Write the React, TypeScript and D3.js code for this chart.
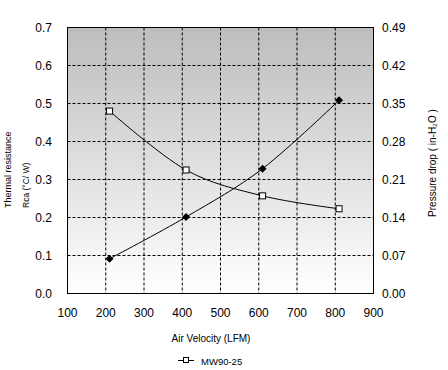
import React from "react";
import * as d3 from "d3";

const velocity = [210, 410, 610, 810];
const thermalResistance = [0.48, 0.325, 0.257, 0.223];
const pressureDrop = [0.064, 0.141, 0.23, 0.356];
const xTicks = [100, 200, 300, 400, 500, 600, 700, 800, 900];
const yLeftTicks = [0, 0.1, 0.2, 0.3, 0.4, 0.5, 0.6, 0.7];
const yRightTicks = [0, 0.07, 0.14, 0.21, 0.28, 0.35, 0.42, 0.49];
const seriesName = "MW90-25";

const W = 448, H = 370;
const L = 67.5, R = 373.5, T = 27.5, B = 293.5;

export default function App() {
  const x = d3.scaleLinear().domain([100, 900]).range([L, R]);
  const yL = d3.scaleLinear().domain([0, 0.7]).range([B, T]);
  const yR = d3.scaleLinear().domain([0, 0.49]).range([B, T]);
  const curve = d3.curveCardinal.tension(0);
  const lineL = d3.line<number>().x((_, i) => x(velocity[i])).y((d) => yL(d)).curve(curve);
  const lineR = d3.line<number>().x((_, i) => x(velocity[i])).y((d) => yR(d)).curve(curve);
  const font = "Arial, 'Liberation Sans', sans-serif";

  return (
    <svg width={W} height={H} style={{ position: "absolute", left: 0, top: 0 }} fontFamily={font}>
      <defs>
        <linearGradient id="bg" x1="0" y1="0" x2="0" y2="1">
          <stop offset="0" stopColor="#bdbdbd" />
          <stop offset="1" stopColor="#ffffff" />
        </linearGradient>
      </defs>
      <rect x={0} y={0} width={W} height={H} fill="#fff" />
      <rect x={L} y={T} width={R - L} height={B - T} fill="url(#bg)" />
      {xTicks.slice(1, -1).map((t) => (
        <line key={"gx" + t} x1={x(t)} x2={x(t)} y1={T} y2={B} stroke="#000" strokeDasharray="3,2" />
      ))}
      {yLeftTicks.slice(1, -1).map((t) => (
        <line key={"gy" + t} x1={L} x2={R} y1={yL(t)} y2={yL(t)} stroke="#000" strokeDasharray="3,2" />
      ))}
      <rect x={L} y={T} width={R - L} height={B - T} fill="none" stroke="#000" strokeWidth={1} />
      <path d={lineL(thermalResistance) || ""} fill="none" stroke="#000" strokeWidth={1} />
      <path d={lineR(pressureDrop) || ""} fill="none" stroke="#000" strokeWidth={1} />
      {thermalResistance.map((v, i) => (
        <rect key={"s" + i} x={x(velocity[i]) - 3} y={yL(v) - 3} width={6} height={6} fill="#fff" stroke="#000" />
      ))}
      {pressureDrop.map((v, i) => {
        const cx = x(velocity[i]), cy = yR(v);
        return <path key={"d" + i} d={`M${cx},${cy - 4}L${cx + 4},${cy}L${cx},${cy + 4}L${cx - 4},${cy}Z`} fill="#000" />;
      })}
      {yLeftTicks.map((t) => (
        <text key={"yl" + t} x={52} y={yL(t) + 4.5} fontSize={12} textAnchor="end">{t.toFixed(1)}</text>
      ))}
      {yRightTicks.map((t) => (
        <text key={"yr" + t} x={382} y={yR(t) + 4.5} fontSize={12} textAnchor="start">{t.toFixed(2)}</text>
      ))}
      {xTicks.map((t) => (
        <text key={"xt" + t} x={x(t)} y={317} fontSize={12} textAnchor="middle">{t}</text>
      ))}
      <text x={211} y={342} fontSize={10} textAnchor="middle">Air Velocity (LFM)</text>
      <text transform="translate(11,208) rotate(-90)" fontSize={9} textAnchor="start">Thermal resistance</text>
      <text transform="translate(29,208) rotate(-90)" fontSize={8.5} textAnchor="start">Rca (°C/ W)</text>
      <text transform="translate(436,163) rotate(-90)" fontSize={10} textAnchor="middle">Pressure drop ( in-H₂O )</text>
      <line x1={178} x2={194} y1={360.5} y2={360.5} stroke="#000" />
      <rect x={183.5} y={357.5} width={5} height={5} fill="#fff" stroke="#000" />
      <text x={201} y={365} fontSize={9.5}>{seriesName}</text>
    </svg>
  );
}
